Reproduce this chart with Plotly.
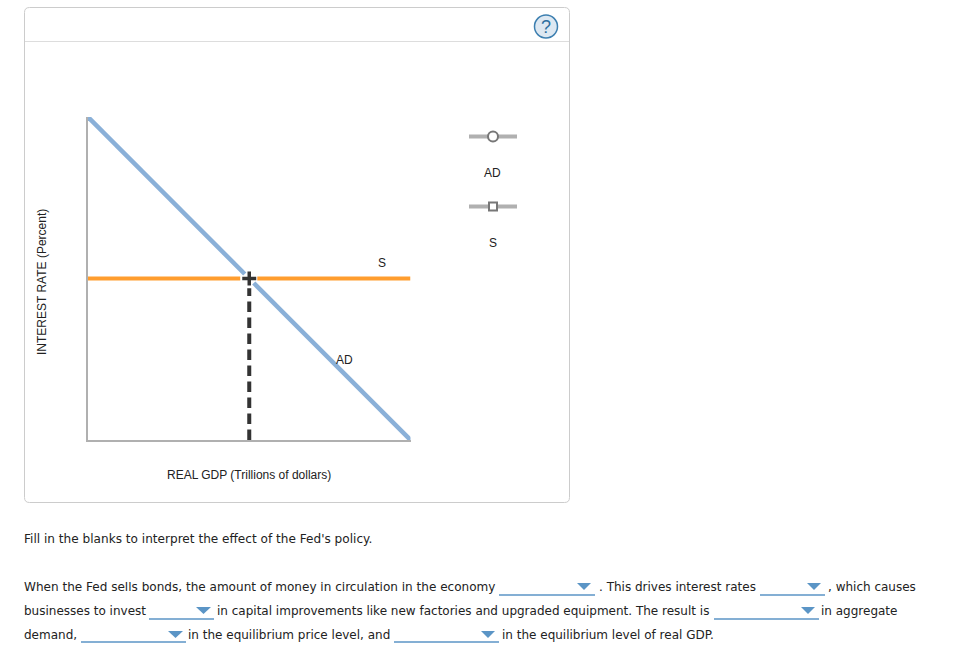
import plotly.graph_objects as go

W, H = 958, 655

# Chart data (percent of the axis range)
ad_x_upper = [0, 48.6]
ad_y_upper = [100, 51.4]
ad_x_lower = [51.4, 100]
ad_y_lower = [48.6, 0]
s_x_left = [0, 47.2]
s_y_left = [50, 50]
s_x_right = [52.5, 100]
s_y_right = [50, 50]
eq_x = [50, 50]
eq_y = [0, 47]
cross_x = [50]
cross_y = [50]

BLUE = "#8ab0d8"
ORANGE = "#ff9d2e"
DARK = "#333333"
GREY = "#b0b0b0"
UI = "#5b95c6"
SANS = "Liberation Sans, Arial, sans-serif"
VERD = "DejaVu Sans, Verdana, sans-serif"

fx = lambda p: p / W
fy = lambda p: 1 - p / H

fig = go.Figure()


def line(xs, ys, color, width, dash="solid"):
    fig.add_trace(go.Scatter(x=xs, y=ys, mode="lines", hoverinfo="skip",
                             line=dict(color=color, width=width, dash=dash)))


line(s_x_left, s_y_left, ORANGE, 4)
line(s_x_right, s_y_right, ORANGE, 4)
line(ad_x_upper, ad_y_upper, BLUE, 4.5)
line(ad_x_lower, ad_y_lower, BLUE, 4.5)
line(eq_x, eq_y, DARK, 4, "10.5px,5.5px")
fig.add_trace(go.Scatter(x=cross_x, y=cross_y, mode="markers", hoverinfo="skip",
                         marker=dict(symbol="cross-thin", size=10, color=DARK,
                                     line=dict(color=DARK, width=3.5))))

shapes = []


def rect(x0, y0, x1, y1, **kw):
    shapes.append(dict(type="rect", xref="paper", yref="paper", x0=fx(x0), x1=fx(x1),
                       y0=fy(y0), y1=fy(y1), **kw))


def seg(x0, y0, x1, y1, color, width):
    shapes.append(dict(type="line", xref="paper", yref="paper", x0=fx(x0), x1=fx(x1),
                       y0=fy(y0), y1=fy(y1), line=dict(color=color, width=width)))


# Panel with rounded corners
r = 5
L, T, R, B = 24.5, 7.5, 569.5, 502.5
panel = (f"M {fx(L+r)} {fy(T)} L {fx(R-r)} {fy(T)} Q {fx(R)} {fy(T)} {fx(R)} {fy(T+r)} "
         f"L {fx(R)} {fy(B-r)} Q {fx(R)} {fy(B)} {fx(R-r)} {fy(B)} "
         f"L {fx(L+r)} {fy(B)} Q {fx(L)} {fy(B)} {fx(L)} {fy(B-r)} "
         f"L {fx(L)} {fy(T+r)} Q {fx(L)} {fy(T)} {fx(L+r)} {fy(T)} Z")
shapes.append(dict(type="path", xref="paper", yref="paper", path=panel,
                   line=dict(color="#cccccc", width=1), fillcolor="white", layer="below"))
seg(25, 41.5, 569, 41.5, "#dddddd", 1)

# Help icon
shapes.append(dict(type="circle", xref="paper", yref="paper", x0=fx(534.5), x1=fx(557.5),
                   y0=fy(15), y1=fy(38), line=dict(color="#3d7fb0", width=1.5),
                   fillcolor="#dde8f2"))

# Legend keys
seg(469, 136.5, 517, 136.5, GREY, 4)
shapes.append(dict(type="circle", xref="paper", yref="paper", x0=fx(488), x1=fx(498),
                   y0=fy(131.5), y1=fy(141.5), line=dict(color="#777777", width=2),
                   fillcolor="white"))
seg(469, 206.5, 517, 206.5, GREY, 4)
rect(489, 202.5, 497, 210.5, line=dict(color="#777777", width=2), fillcolor="white")

# Dropdowns: underline x0, x1, y and arrow x0, x1, y0
dropdowns = [
    (499, 595, 595, 577, 591, 583),
    (760, 825, 595, 807, 821, 583),
    (149, 214, 619, 196, 211, 607),
    (714, 819, 619, 801, 815, 607),
    (81, 186, 642, 168, 183, 631),
    (394, 499, 642, 481, 495, 631),
]
for x0, x1, y, a0, a1, ay in dropdowns:
    seg(x0, y, x1, y, UI, 1.5)
    shapes.append(dict(type="path", xref="paper", yref="paper",
                       path=(f"M {fx(a0)} {fy(ay)} L {fx(a1)} {fy(ay)} "
                             f"L {fx((a0+a1)/2)} {fy(ay+7)} Z"),
                       fillcolor=UI, line=dict(width=0)))

annotations = []


def label(text, x, y, font=SANS, size=12, color="#222222", anchor="center", angle=0):
    annotations.append(dict(text=text, xref="paper", yref="paper", x=fx(x), y=fy(y),
                            xanchor=anchor, yanchor="middle", showarrow=False,
                            textangle=angle, borderpad=0,
                            font=dict(family=font, size=size, color=color)))


label("?", 546, 26.5, size=18, color="#2f6f9f")
label("AD", 492.5, 173)
label("S", 492.5, 243)
label("S", 382, 263)
label("AD", 344, 360)
label("REAL GDP (Trillions of dollars)", 249, 475)
label("INTEREST RATE (Percent)", 42, 282, angle=-90)

label("Fill in the blanks to interpret the effect of the Fed's policy.", 23, 539, VERD, 12.1, anchor="left")
rows = [
    ("When the Fed sells bonds, the amount of money in circulation in the economy", 23, 587, 12.05),
    (". This drives interest rates", 598, 587, 12),
    (", which causes", 827, 587, 12),
    ("businesses to invest", 23, 611, 12),
    ("in capital improvements like new factories and upgraded equipment. The result is", 216, 611, 12),
    ("in aggregate", 820, 611, 12),
    ("demand,", 23, 635, 12),
    ("in the equilibrium price level, and", 187, 635, 12),
    ("in the equilibrium level of real GDP.", 501, 635, 12),
]
for t, x, y, s in rows:
    label(t, x, y, VERD, s, anchor="left")

axis_common = dict(range=[0, 100], showgrid=False, zeroline=False, showticklabels=False,
                   ticks="", showline=True, linecolor=GREY, linewidth=2, mirror=False,
                   fixedrange=True)
fig.update_layout(
    width=W, height=H, margin=dict(l=0, r=0, t=0, b=0, pad=0),
    paper_bgcolor="white", plot_bgcolor="rgba(0,0,0,0)", showlegend=False,
    xaxis=dict(domain=[fx(88), fx(410.5)], **axis_common),
    yaxis=dict(domain=[fy(440), fy(117)], **axis_common),
    shapes=shapes, annotations=annotations,
)
fig.write_html("out.html", config=dict(displayModeBar=False),
               post_script="document.body.style.margin='0';")
